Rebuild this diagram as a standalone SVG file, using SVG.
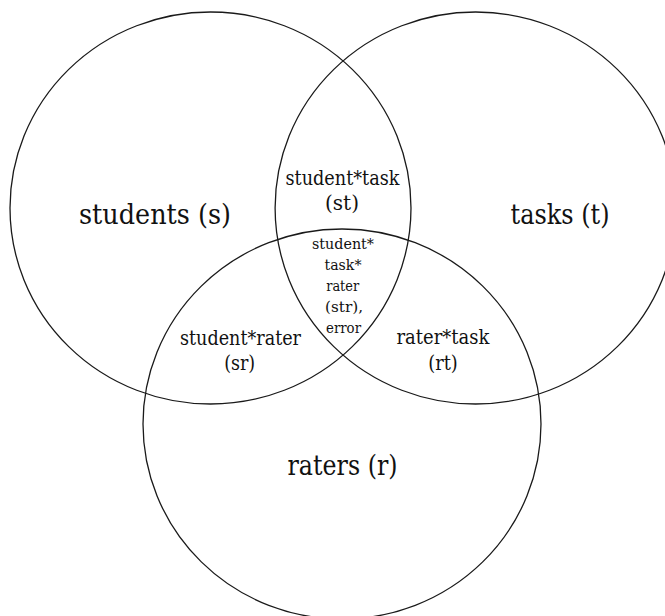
<svg xmlns="http://www.w3.org/2000/svg" width="665" height="616" viewBox="0 0 665 616">
<style>
.set{fill:none;stroke:#1a1a1a;stroke-width:1.3}
.t{fill:#111;text-anchor:middle;font-family:"DejaVu Serif",serif}
.big{font-size:27px}
.mid{font-size:20px}
.sm{font-size:15.5px}
</style>
<rect width="665" height="616" fill="#fff"/>
<g id="students">
<ellipse class="set" cx="210.5" cy="208" rx="200.5" ry="196"/>
<text class="t big" x="155" y="224" textLength="152" lengthAdjust="spacingAndGlyphs">students (s)</text>
</g>
<g id="tasks">
<ellipse class="set" cx="475.6" cy="208" rx="200.5" ry="196"/>
<text class="t big" x="560" y="224" textLength="99" lengthAdjust="spacingAndGlyphs">tasks (t)</text>
</g>
<g id="raters">
<ellipse class="set" cx="342" cy="424" rx="199" ry="195"/>
<text class="t big" x="342.5" y="475" textLength="110" lengthAdjust="spacingAndGlyphs">raters (r)</text>
</g>
<g id="student-task">
<text class="t mid" x="342.5" y="185" textLength="114" lengthAdjust="spacingAndGlyphs">student*task</text>
<text class="t mid" x="342" y="210" textLength="34" lengthAdjust="spacingAndGlyphs">(st)</text>
</g>
<g id="student-rater">
<text class="t mid" x="240.5" y="345" textLength="121" lengthAdjust="spacingAndGlyphs">student*rater</text>
<text class="t mid" x="239.7" y="370" textLength="31" lengthAdjust="spacingAndGlyphs">(sr)</text>
</g>
<g id="rater-task">
<text class="t mid" x="443" y="344" textLength="93" lengthAdjust="spacingAndGlyphs">rater*task</text>
<text class="t mid" x="443" y="370" textLength="29.5" lengthAdjust="spacingAndGlyphs">(rt)</text>
</g>
<g id="student-task-rater">
<text class="t sm" x="343" y="249" textLength="62" lengthAdjust="spacingAndGlyphs">student*</text>
<text class="t sm" x="343" y="270" textLength="37" lengthAdjust="spacingAndGlyphs">task*</text>
<text class="t sm" x="342.7" y="291" textLength="33" lengthAdjust="spacingAndGlyphs">rater</text>
<text class="t sm" x="344" y="312" textLength="38" lengthAdjust="spacingAndGlyphs">(str),</text>
<text class="t sm" x="343.5" y="333" textLength="35" lengthAdjust="spacingAndGlyphs">error</text>
</g>
</svg>
